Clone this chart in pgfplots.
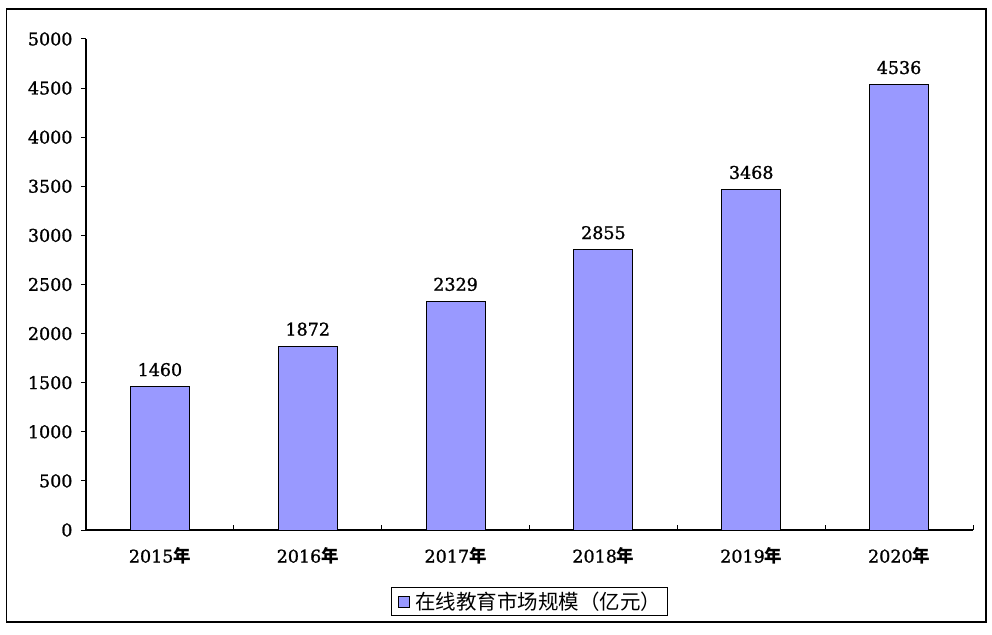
\documentclass[border=0pt]{standalone}
\usepackage{fontspec}
\usepackage{pgfplots}
\pgfplotsset{compat=1.18}
\setmainfont{DejaVu Serif}[BoldFont=DejaVu Serif, BoldFeatures={FakeBold=1.2}]
\newfontfamily\cjk{Noto Sans CJK SC}
\definecolor{barblue}{RGB}{153,153,255}

\begin{document}
\begin{tikzpicture}[x=1pt,y=1pt]
\path[use as bounding box] (0,0) rectangle (992,634);
\draw[line width=1.5pt] (6.5,12) rectangle (986,625);
\begin{axis}[
    at={(86pt,104pt)}, anchor=south west,
    scale only axis, width=887pt, height=491pt,
    ybar, bar width=59pt,
    ymin=0, ymax=5000, ytick distance=500,
    xmin=-0.5, xmax=5.5,
    xtick={-0.5,0.5,...,5.5},
    x tick label as interval,
    xticklabels={2015{\cjk 年},2016{\cjk 年},2017{\cjk 年},2018{\cjk 年},2019{\cjk 年},2020{\cjk 年}},
    axis x line*=bottom, axis y line*=left,
    axis line style={line width=1.2pt, black},
    xtick align=inside, ytick align=outside,
    major tick length=5pt,
    tick style={line width=1pt, black},
    ticklabel style={font=\bfseries\fontsize{17.5}{20}\selectfont},
    yticklabel style={xshift=-5pt},
    xticklabel style={yshift=-14pt},
    /pgf/number format/1000 sep={},
    /pgf/number format/assume math mode=true,
    nodes near coords,
    every node near coord/.append style={font=\bfseries\fontsize{17.5}{20}\selectfont, yshift=6.5pt, black},
    legend style={at={(0.5,-0.1456)}, anchor=center, draw=black, line width=1pt,
        font=\cjk\fontsize{20.5}{22}\selectfont, nodes={inner sep=0pt},
        inner xsep=6pt, inner ysep=4.5pt,
        /tikz/every odd column/.append style={column sep=6pt}},
    legend image code/.code={\draw[fill=barblue, draw=black, line width=0.8pt] (0pt,-5.5pt) rectangle (11pt,5.5pt);},
]
\addplot[fill=barblue, draw=black, line width=1pt] coordinates {(0,1460) (1,1872) (2,2329) (3,2855) (4,3468) (5,4536)};
\addlegendentry{在线教育市场规模（亿元）}
\end{axis}
\end{tikzpicture}
\end{document}
